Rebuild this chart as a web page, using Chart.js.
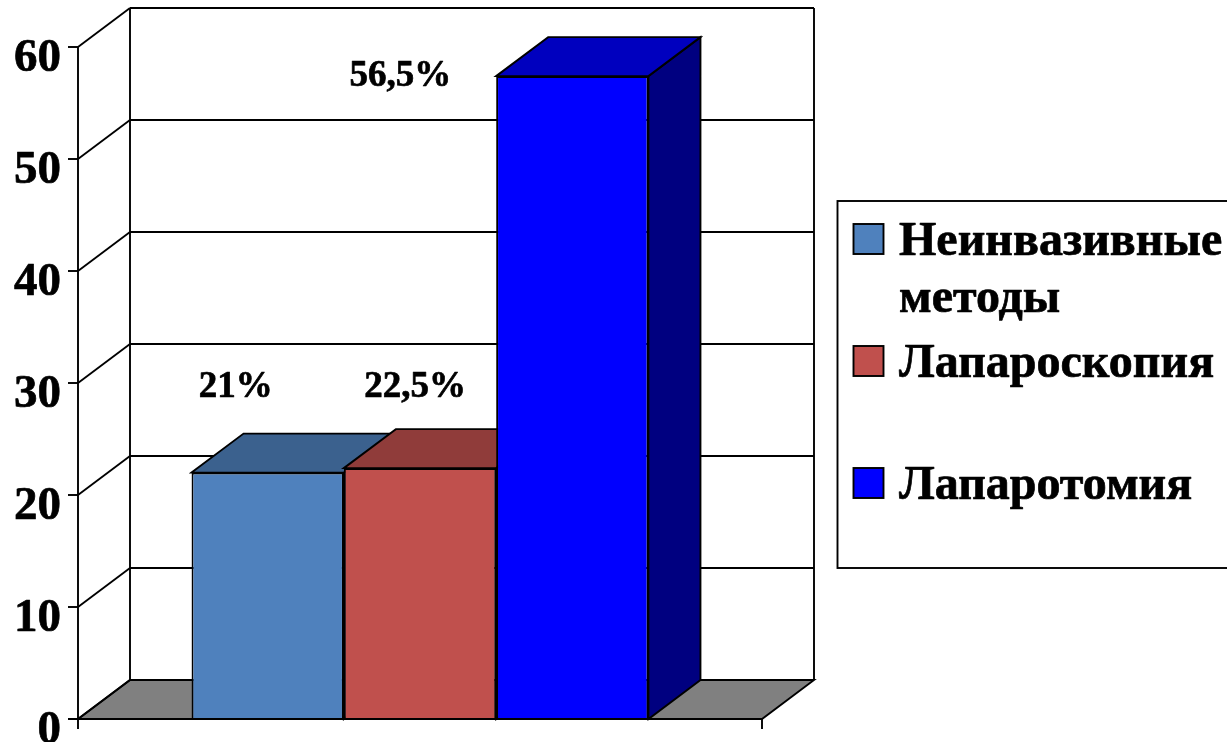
<!DOCTYPE html>
<html>
<head>
<meta charset="utf-8">
<title>Chart</title>
<script src="https://cdn.jsdelivr.net/npm/chart.js@4"></script>
<style>
  html, body { margin: 0; padding: 0; background: #fff; overflow: hidden; }
  canvas { display: block; }
</style>
</head>
<body>
<canvas id="chart" width="1227" height="742"></canvas>
<script>
// Data
const categories = [''];
const seriesNames = ['Неинвазивные методы', 'Лапароскопия', 'Лапаротомия'];
const seriesValues = [22, 22.4, 57.4];
const valueLabels = ['21%', '22,5%', '56,5%'];
const yTicks = [0, 10, 20, 30, 40, 50, 60];

// Legend text, split the way it wraps in the box
const legendLines = [['Неинвазивные', 'методы'], ['Лапароскопия'], ['Лапаротомия']];

// Colours of the three bars: front, top, side
const frontColors = ['#4f81bd', '#c0504d', '#0000ff'];
const topColors = ['#3b618e', '#903c3a', '#0000bf'];
const sideColors = ['#2f4d71', '#73302e', '#000080'];

const FONT = '"Liberation Serif", "Times New Roman", serif';
const DEPTH_X = 52;
const DEPTH_Y = 39;
const LINE_W = 1.9;

function poly(ctx, pts, fill) {
    ctx.beginPath();
    pts.forEach((p, i) => i ? ctx.lineTo(p[0], p[1]) : ctx.moveTo(p[0], p[1]));
    ctx.closePath();
    if (fill) {
        ctx.fillStyle = fill;
        ctx.fill();
    }
    ctx.stroke();
}

function line(ctx, x1, y1, x2, y2) {
    ctx.beginPath();
    ctx.moveTo(x1, y1);
    ctx.lineTo(x2, y2);
    ctx.stroke();
}

// Filled text with a thin outline, the original glyphs are a bit heavier
function heavyText(ctx, text, x, y) {
    ctx.save();
    ctx.lineWidth = 0.7;
    ctx.lineJoin = 'round';
    ctx.strokeText(text, x, y);
    ctx.restore();
    ctx.fillText(text, x, y);
}

// Back wall, side wall, floor and the depth faces of the bars
const wallsPlugin = {
    id: 'walls',
    beforeDatasetsDraw(chart) {
        const ctx = chart.ctx;
        const area = chart.chartArea;
        const y = chart.scales.y;
        const y0 = y.getPixelForValue(0);
        ctx.save();
        ctx.strokeStyle = '#000';
        ctx.lineWidth = LINE_W;

        poly(ctx, [
            [area.left, y0],
            [area.left + DEPTH_X, y0 - DEPTH_Y],
            [area.right + DEPTH_X, y0 - DEPTH_Y],
            [area.right, y0]
        ], '#808080');

        yTicks.forEach(v => {
            const py = y.getPixelForValue(v);
            line(ctx, area.left, py, area.left + DEPTH_X, py - DEPTH_Y);
            line(ctx, area.left + DEPTH_X, py - DEPTH_Y, area.right + DEPTH_X, py - DEPTH_Y);
        });

        const wallTop = y.getPixelForValue(yTicks[yTicks.length - 1]) - DEPTH_Y;
        line(ctx, area.left + DEPTH_X, wallTop, area.left + DEPTH_X, y0 - DEPTH_Y);
        line(ctx, area.right + DEPTH_X, wallTop, area.right + DEPTH_X, y0 - DEPTH_Y);

        seriesValues.forEach((v, i) => {
            const bar = chart.getDatasetMeta(i).data[0];
            const left = bar.x - bar.width / 2;
            const right = bar.x + bar.width / 2;
            poly(ctx, [
                [right, bar.y],
                [right + DEPTH_X, bar.y - DEPTH_Y],
                [right + DEPTH_X, bar.base - DEPTH_Y],
                [right, bar.base]
            ], sideColors[i]);
            poly(ctx, [
                [left, bar.y],
                [left + DEPTH_X, bar.y - DEPTH_Y],
                [right + DEPTH_X, bar.y - DEPTH_Y],
                [right, bar.y]
            ], topColors[i]);
        });
        ctx.restore();
    },
    afterDatasetsDraw(chart) {
        const ctx = chart.ctx;
        const area = chart.chartArea;
        const y = chart.scales.y;
        const y0 = y.getPixelForValue(0);
        ctx.save();
        ctx.strokeStyle = '#000';
        ctx.fillStyle = '#000';
        ctx.lineWidth = LINE_W;

        // Axes and ticks
        line(ctx, area.left, y.getPixelForValue(yTicks[yTicks.length - 1]), area.left, y0 + 10);
        line(ctx, area.left - 10, y0, area.right, y0);
        line(ctx, area.right, y0, area.right, y0 + 10);

        ctx.font = 'bold 47px ' + FONT;
        ctx.textAlign = 'right';
        ctx.textBaseline = 'alphabetic';
        yTicks.forEach(v => {
            const py = y.getPixelForValue(v);
            line(ctx, area.left - 10, py, area.left, py);
            heavyText(ctx, String(v), area.left - 17, py + 24);
        });

        // The value labels sit where they were placed by hand in the original
        const labelShift = [[-32, -76], [-5, -71], [-172, 10]];
        ctx.font = 'bold 37px ' + FONT;
        ctx.textAlign = 'center';
        valueLabels.forEach((text, i) => {
            const bar = chart.getDatasetMeta(i).data[0];
            heavyText(ctx, text, bar.x + labelShift[i][0], bar.y + labelShift[i][1]);
        });

        drawLegend(ctx);
        ctx.restore();
    }
};

function drawLegend(ctx) {
    ctx.lineWidth = LINE_W;
    ctx.strokeStyle = '#000';
    ctx.strokeRect(837.5, 201, 420, 367);

    const rowTops = [224, 346, 468];
    ctx.font = 'bold 48px ' + FONT;
    ctx.textAlign = 'left';
    legendLines.forEach((lines, i) => {
        ctx.fillStyle = frontColors[i];
        ctx.fillRect(853.5, rowTops[i], 30, 30);
        ctx.strokeRect(853.5, rowTops[i], 30, 30);
        ctx.fillStyle = '#000';
        lines.forEach((text, j) => heavyText(ctx, text, 899, rowTops[i] + 31 + j * 57));
    });
}

new Chart(document.getElementById('chart'), {
    type: 'bar',
    data: {
        labels: categories,
        datasets: seriesNames.map((name, i) => ({
            label: name,
            data: [seriesValues[i]],
            backgroundColor: frontColors[i],
            borderColor: '#000',
            borderWidth: LINE_W,
            categoryPercentage: 0.668,
            barPercentage: 1
        }))
    },
    options: {
        responsive: false,
        animation: false,
        layout: { padding: { left: 78, right: 465, top: 47, bottom: 23 } },
        plugins: { legend: { display: false }, tooltip: { enabled: false } },
        scales: {
            x: {
                ticks: { display: false },
                grid: { display: false, drawTicks: false },
                border: { display: false }
            },
            y: {
                min: 0,
                max: 60,
                afterBuildTicks: scale => { scale.ticks = yTicks.map(v => ({ value: v })); },
                ticks: { display: false },
                grid: { display: false, drawTicks: false },
                border: { display: false }
            }
        }
    },
    plugins: [wallsPlugin]
});
</script>
</body>
</html>
